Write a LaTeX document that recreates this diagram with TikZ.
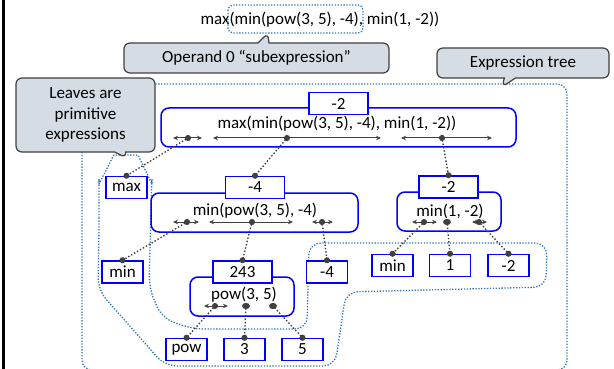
\documentclass[tikz,border=0pt]{standalone}
\usepackage{fontspec}
\setmainfont{Carlito}
\usetikzlibrary{positioning}
\usetikzlibrary{arrows.meta}
\usetikzlibrary{shapes.callouts}
\definecolor{treeblue}{RGB}{0,0,255}
\definecolor{outlineblue}{RGB}{46,117,182}
\definecolor{notefill}{RGB}{214,220,228}
\definecolor{linkgray}{RGB}{64,64,64}

\begin{document}
\begin{tikzpicture}[x=1pt, y=-1pt, font=\fontsize{17}{20.5}\selectfont,
    leaf/.style = {draw=treeblue, line width=1.5pt, fill=white, minimum width=41pt, minimum height=22pt, inner sep=0pt},
    value/.style = {leaf, minimum width=59pt},
    frame/.style = {draw=treeblue, line width=1.5pt, fill=white, rounded corners=8pt, inner sep=0pt},
    expr/.style = {inner sep=0pt},
    note/.style = {rectangle callout, draw=linkgray, line width=1.2pt, fill=notefill, rounded corners=6pt, callout pointer width=11pt, inner sep=0pt, align=center},
    outline/.style = {draw=outlineblue, line width=1.3pt, dash pattern=on 1.3pt off 1.6pt},
    span/.style = {draw=linkgray, line width=1pt, {Stealth[length=5pt,width=4.5pt]}-{Stealth[length=5pt,width=4.5pt]}},
    link/.style = {draw=linkgray, line width=1.4pt, dotted, {Circle[length=6pt]}-{Circle[length=6pt]}, shorten <=-3pt, shorten >=-3pt}]
    \useasboundingbox (0,0) rectangle (614,369);
    \fill[white] (0,0) rectangle (614,369);
    \draw[line width=3pt] (3.5,0) -- (3.5,369);

    % source line and its operand
    \node[expr] (source) at (320,20) {max(min(pow(3, 5), -4), min(1, -2))};
    \draw[outline, rounded corners=5pt] (228,5) rectangle (363,33);

    % outlines
    \draw[outline, rounded corners=10pt] (82,84) rectangle (567,370);
    \draw[outline, rounded corners=12pt] (99,230) -- (99,172) to[out=-90,in=180] (126,155) to[out=0,in=-90] (152,172)
        -- (149,288) -- (162,318) -- (192,329) -- (307,329) -- (309,243) -- (547,243) -- (546,287)
        -- (346,292) -- (335,366) -- (165,366) -- (98,290) -- cycle;

    % callouts
    \node[note, minimum width=265pt, minimum height=30pt, callout absolute pointer={(268,33)}] (operand) at (256.5,58) {Operand 0 “subexpression”};
    \node[note, minimum width=172pt, minimum height=30pt, callout absolute pointer={(502,87)}] (treenote) at (523,63) {Expression tree};
    \node[note, minimum width=139pt, minimum height=74pt, callout absolute pointer={(126,158)}] (leafnote) at (85.5,115) {Leaves are\\primitive\\expressions};

    % root
    \node[frame, minimum width=355pt, minimum height=39pt] (rootframe) at (338.5,127.5) {};
    \node[expr] (rootexpr) at (337,124) {max(min(pow(3, 5), -4), min(1, -2))};
    \node[value] (rootval) at (338.5,103.5) {-2};
    \coordinate (r1) at (188,138);
    \coordinate (r2) at (287,138);
    \coordinate (r3) at (442,138);
    \draw[span] (173,138) -- (202,138);
    \draw[span] (213,138) -- (381,138);
    \draw[span] (401,138) -- (492,138);

    % min(pow(3, 5), -4)
    \node[frame, minimum width=207pt, minimum height=39pt] (minpowframe) at (254.5,212.5) {};
    \node[expr] (minpowexpr) at (255,211) {min(pow(3, 5), -4)};
    \node[value] (minpowval) at (255,187.5) {-4};
    \coordinate (m1) at (187,222);
    \coordinate (m2) at (252,222);
    \coordinate (m3) at (322,222);
    \draw[span] (173,222) -- (199,222);
    \draw[span] (209,222) -- (293,222);
    \draw[span] (312,222) -- (333,222);

    % min(1, -2)
    \node[frame, minimum width=104pt, minimum height=39pt] (minframe) at (449,211.5) {};
    \node[expr] (minexpr) at (450,211) {min(1, -2)};
    \node[value] (minval) at (448.5,187) {-2};
    \coordinate (n1) at (424,222);
    \coordinate (n2) at (447,222);
    \coordinate (n3) at (479,222);
    \draw[span] (412,222) -- (437,222);
    \fill[linkgray] (n2) ellipse (4pt and 3pt);
    \draw[span] (472,222) -- (487,222);

    % pow(3, 5)
    \node[frame, minimum width=104pt, minimum height=39pt] (powframe) at (242,296.5) {};
    \node[expr] (powexpr) at (244,295) {pow(3, 5)};
    \node[value] (powval) at (242.5,272) {243};
    \coordinate (p1) at (215,306);
    \coordinate (p2) at (246,306);
    \coordinate (p3) at (273,306);
    \draw[span] (204,306) -- (228,306);
    \fill[linkgray] (p2) ellipse (4pt and 3pt);
    \fill[linkgray] (p3) ellipse (4pt and 3pt);

    % leaves
    \node[leaf] (maxleaf) at (126.5,187.5) {max};
    \node[leaf] (minleaf) at (122.5,272) {min};
    \node[leaf] (negfour) at (327,272) {-4};
    \node[leaf] (minleaftwo) at (392.5,265.5) {min};
    \node[leaf] (one) at (450,265.5) {1};
    \node[leaf] (negtwo) at (508.5,265.5) {-2};
    \node[leaf] (powleaf) at (186.5,349.5) {pow};
    \node[leaf] (three) at (244.5,349.5) {3};
    \node[leaf] (five) at (302.5,349.5) {5};

    % links
    \draw[link] (r1) -- (maxleaf.north);
    \draw[link] (r2) -- (minpowval.north);
    \draw[link] (r3) -- (minval.north);
    \draw[link] (m1) -- (minleaf.north);
    \draw[link] (m2) -- (powval.north);
    \draw[link] (m3) -- (negfour.north);
    \draw[link] (n1) -- (minleaftwo.north);
    \draw[link] (n2) -- (one.north);
    \draw[link] (n3) -- (negtwo.north);
    \draw[link] (p1) -- (powleaf.north);
    \draw[link] (p2) -- (three.north);
    \draw[link] (p3) -- (five.north);
\end{tikzpicture}
\end{document}
